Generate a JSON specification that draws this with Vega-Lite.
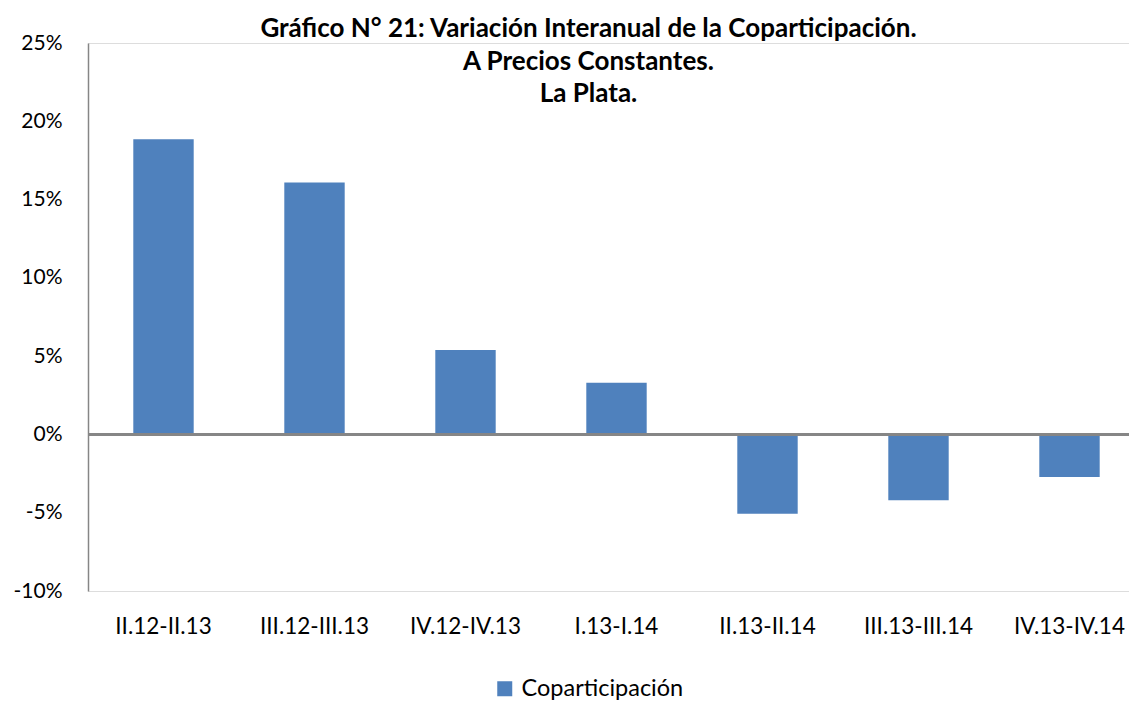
{
  "$schema": "https://vega.github.io/schema/vega-lite/v6.json",
  "autosize": {"type": "none"},
  "width": 1041,
  "height": 548,
  "padding": {"left": 88, "top": 43, "right": 0, "bottom": 110},
  "background": "white",
  "title": {
    "text": ["Gráfico N° 21: Variación Interanual de la Coparticipación.", "A Precios Constantes.", "La Plata."],
    "font": "Lato",
    "fontWeight": "bold",
    "fontSize": 26,
    "lineHeight": 32.5,
    "color": "#000000",
    "anchor": "middle",
    "frame": "group",
    "offset": 0,
    "dx": -20,
    "dy": 75
  },
  "data": {
    "values": [
      {"periodo": "II.12-II.13", "serie": "Coparticipación", "valor": 18.86},
      {"periodo": "III.12-III.13", "serie": "Coparticipación", "valor": 16.09},
      {"periodo": "IV.12-IV.13", "serie": "Coparticipación", "valor": 5.4},
      {"periodo": "I.13-I.14", "serie": "Coparticipación", "valor": 3.3},
      {"periodo": "II.13-II.14", "serie": "Coparticipación", "valor": -5.06},
      {"periodo": "III.13-III.14", "serie": "Coparticipación", "valor": -4.21},
      {"periodo": "IV.13-IV.14", "serie": "Coparticipación", "valor": -2.72}
    ]
  },
  "layer": [
    {
      "mark": {"type": "bar"},
      "encoding": {
        "x": {
          "field": "periodo",
          "type": "nominal",
          "sort": null,
          "scale": {"range": [0, 1057], "paddingInner": 0.6, "paddingOuter": 0.3},
          "axis": {
            "title": null,
            "domain": false,
            "ticks": false,
            "labelAngle": 0,
            "labelFont": "Lato",
            "labelFontSize": 22.5,
            "labelColor": "#000000",
            "labelPadding": 24,
            "labelLimit": 0
          }
        },
        "y": {
          "field": "valor",
          "type": "quantitative",
          "scale": {"domain": [-10, 25], "nice": false},
          "axis": {
            "title": null,
            "values": [-10, -5, 0, 5, 10, 15, 20, 25],
            "labelExpr": "datum.value + '%'",
            "grid": false,
            "ticks": false,
            "domain": true,
            "domainColor": "#868686",
            "domainWidth": 1.5,
            "labelFont": "Lato",
            "labelFontSize": 21,
            "labelColor": "#000000",
            "labelPadding": 26
          }
        },
        "color": {
          "field": "serie",
          "type": "nominal",
          "scale": {"range": ["#4F81BD"]},
          "legend": {
            "title": null,
            "orient": "none",
            "legendX": 405,
            "legendY": 634,
            "symbolType": "square",
            "symbolSize": 225,
            "symbolStrokeWidth": 0,
            "labelFont": "Lato",
            "labelFontSize": 23.5,
            "labelColor": "#000000",
            "labelOffset": 5,
            "labelLimit": 0
          }
        }
      }
    },
    {
      "mark": {"type": "rule", "color": "#868686", "strokeWidth": 2},
      "encoding": {"y": {"datum": 0}}
    }
  ]
}
